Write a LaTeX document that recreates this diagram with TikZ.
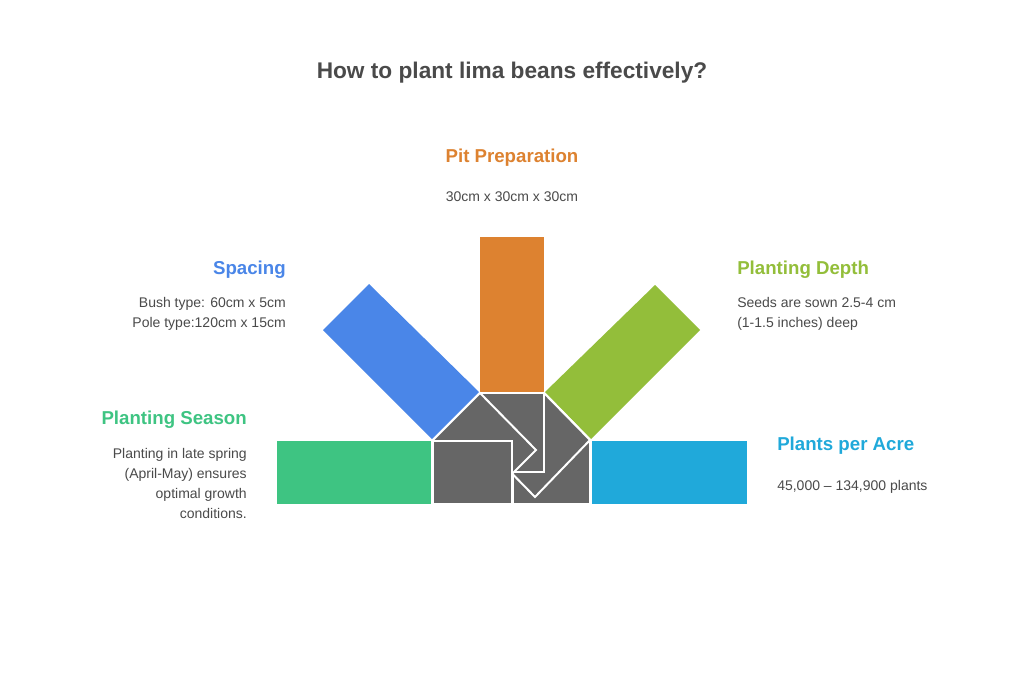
\documentclass[tikz,border=0pt]{standalone}
\usepackage{fontspec}
\setmainfont{Liberation Sans}
\definecolor{cgray}{HTML}{666666}
\definecolor{ctext}{HTML}{4A4A4A}
\definecolor{cblue}{HTML}{4A86E8}
\definecolor{corange}{HTML}{DD8230}
\definecolor{clime}{HTML}{93BE3A}
\definecolor{cgreen}{HTML}{3EC482}
\definecolor{ccyan}{HTML}{20A9DA}
\begin{document}
\begin{tikzpicture}[x=0.75pt,y=-0.75pt,
 hub/.style={fill=cgray,draw=white,line width=1.5pt,line join=miter},
 bar/.style={draw=white,line width=1.5pt},
 head/.style={font=\bfseries\fontsize{14}{16}\selectfont,inner sep=0pt},
 body/.style={font=\fontsize{10.5}{15}\selectfont,text=ctext,inner sep=0pt}]
\useasboundingbox[fill=white] (0,0) rectangle (1024,696);
\node[font=\bfseries\fontsize{17}{20}\selectfont,text=ctext] (title) at (512,73) {How to plant lima beans effectively?};
% bars
\fill[cgreen] (277,441) rectangle (432,504);
\fill[ccyan] (591,441) rectangle (747,504);
\fill[corange] (480,237) rectangle (544,392);
\fill[cblue] (432,439) -- (479,392) -- (369,284) -- (323,330) -- cycle;
\fill[clime] (545,392) -- (591,439) -- (700,330) -- (655,285) -- cycle;
% hub
\draw[hub] (513,441) rectangle (590,504);
\draw[hub] (544,393) -- (590,440) -- (535,497) -- (489,450) -- cycle;
\draw[hub] (480,393) rectangle (544,472);
\draw[hub] (480,393) -- (536,450) -- (489,497) -- (433,440) -- cycle;
\draw[hub] (433,441) rectangle (512,504);
\draw[bar] (432,441) -- (432,504);
\draw[bar] (591,441) -- (591,504);
% texts
\node[head,text=corange] (pith) at (512,158) {Pit Preparation};
\node[body] (pitb) at (512,197) {30cm x 30cm x 30cm};
\node[head,text=cblue,anchor=east] (sph) at (286,270) {Spacing};
\node[body,anchor=north east,align=right] (spb) at (286,297) {Bush type: 60cm x 5cm\\Pole type:120cm x 15cm};
\node[head,text=clime,anchor=west] (pdh) at (737,270) {Planting Depth};
\node[body,anchor=north west,align=left] (pdb) at (737,297) {Seeds are sown 2.5-4 cm\\(1-1.5 inches) deep};
\node[head,text=cgreen,anchor=east] (psh) at (247,420) {Planting Season};
\node[body,anchor=north east,align=right] (psb) at (247,448) {Planting in late spring\\(April-May) ensures\\optimal growth\\conditions.};
\node[head,text=ccyan,anchor=west] (pah) at (777,446) {Plants per Acre};
\node[body,anchor=west] (pab) at (777,487) {45,000 – 134,900 plants};
\end{tikzpicture}
\end{document}
